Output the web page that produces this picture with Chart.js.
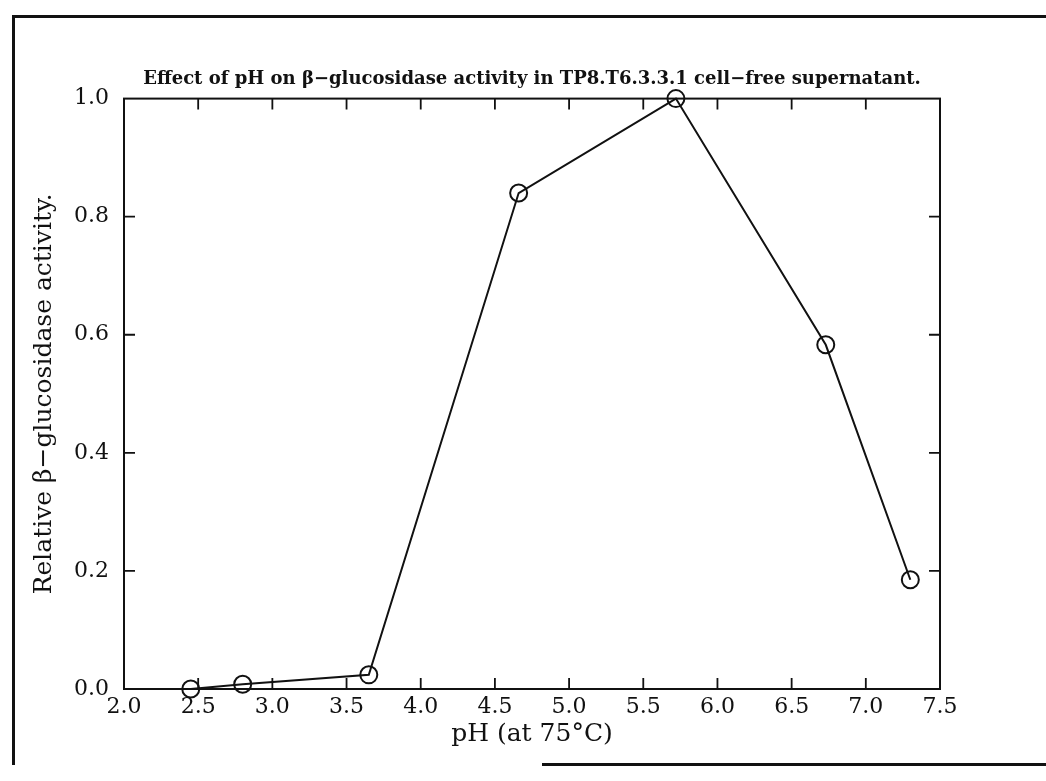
<!DOCTYPE html>
<html>
<head>
<meta charset="utf-8">
<script src="https://cdn.jsdelivr.net/npm/chart.js@4/dist/chart.umd.min.js"></script>
<style>
  html, body { margin: 0; padding: 0; background: #fff; }
  #wrap { position: relative; width: 1046px; height: 781px; }
  .rule { position: absolute; background: #111; }
</style>
</head>
<body>
<div id="wrap">
  <canvas id="myChart" width="1046" height="781"></canvas>
  <!-- scanned page frame -->
  <div class="rule" style="left:12px; top:15px; width:1034px; height:2.5px;"></div>
  <div class="rule" style="left:12px; top:15px; width:2.5px; height:750px;"></div>
  <div class="rule" style="left:542px; top:763px; width:504px; height:2.5px;"></div>
</div>
<script>
// data
const phValues = [2.45, 2.8, 3.65, 4.66, 5.72, 6.73, 7.3];
const activityValues = [0.0, 0.008, 0.024, 0.84, 1.0, 0.583, 0.185];

const xTicks = [2.0, 2.5, 3.0, 3.5, 4.0, 4.5, 5.0, 5.5, 6.0, 6.5, 7.0, 7.5];
const yTicks = [0.0, 0.2, 0.4, 0.6, 0.8, 1.0];

const titleText = 'Effect of pH on \u03b2\u2212glucosidase activity in TP8.T6.3.3.1 cell\u2212free supernatant.';
const xAxisName = 'pH (at 75\u00b0C)';
const yAxisName = 'Relative \u03b2\u2212glucosidase activity.';

const serif = "'DejaVu Serif', 'Liberation Serif', serif";

// box around the plot with ticks pointing inward
const frameTicks = {
    id: 'frameTicks',
    afterDraw(chart) {
        const { ctx, chartArea: a, scales } = chart;
        const len = 11;
        ctx.save();
        ctx.strokeStyle = '#111';
        ctx.lineWidth = 2;
        ctx.strokeRect(a.left, a.top, a.right - a.left, a.bottom - a.top);
        ctx.lineWidth = 1.8;
        ctx.beginPath();
        xTicks.slice(1, -1).forEach(v => {
            const px = scales.x.getPixelForValue(v);
            ctx.moveTo(px, a.bottom); ctx.lineTo(px, a.bottom - len);
            ctx.moveTo(px, a.top); ctx.lineTo(px, a.top + len);
        });
        yTicks.slice(1, -1).forEach(v => {
            const py = scales.y.getPixelForValue(v);
            ctx.moveTo(a.left, py); ctx.lineTo(a.left + len, py);
            ctx.moveTo(a.right, py); ctx.lineTo(a.right - len, py);
        });
        ctx.stroke();
        ctx.restore();
    }
};

const ctx = document.getElementById('myChart').getContext('2d');
const myChart = new Chart(ctx, {
    type: 'line',
    data: {
        datasets: [{
            data: phValues.map((x, i) => ({ x: x, y: activityValues[i] })),
            borderColor: '#111',
            borderWidth: 2,
            tension: 0,
            pointRadius: 8.5,
            pointBorderWidth: 2,
            pointBorderColor: '#111',
            pointBackgroundColor: 'rgba(0,0,0,0)',
            clip: false
        }]
    },
    options: {
        responsive: false,
        animation: false,
        layout: { padding: { left: 29, right: 106, top: 69, bottom: 30 } },
        scales: {
            x: {
                type: 'linear',
                min: 2.0,
                max: 7.5,
                afterBuildTicks: scale => { scale.ticks = xTicks.map(v => ({ value: v })); },
                afterFit: scale => { scale.height = 62; },
                grid: { display: false, drawTicks: false },
                border: { display: false },
                ticks: {
                    color: '#111',
                    padding: 5,
                    maxRotation: 0,
                    font: { family: serif, size: 22 },
                    callback: v => v.toFixed(1)
                },
                title: {
                    display: true,
                    text: xAxisName,
                    color: '#111',
                    padding: { top: 0, bottom: 2 },
                    font: { family: serif, size: 25 }
                }
            },
            y: {
                min: 0,
                max: 1.0,
                afterBuildTicks: scale => { scale.ticks = yTicks.map(v => ({ value: v })); },
                afterFit: scale => { scale.width = 95; },
                grid: { display: false, drawTicks: false },
                border: { display: false },
                ticks: {
                    color: '#111',
                    padding: 15,
                    font: { family: serif, size: 22 },
                    callback: v => v.toFixed(1)
                },
                title: {
                    display: true,
                    text: yAxisName,
                    color: '#111',
                    padding: { top: 0, bottom: 0 },
                    font: { family: serif, size: 25 }
                }
            }
        },
        plugins: {
            legend: { display: false },
            tooltip: { enabled: false },
            title: {
                display: true,
                fullSize: false,
                text: titleText,
                color: '#111',
                padding: { top: 0, bottom: 8 },
                font: { family: serif, size: 18, weight: 'bold', lineHeight: 1.2 }
            }
        }
    },
    plugins: [frameTicks]
});
</script>
</body>
</html>
